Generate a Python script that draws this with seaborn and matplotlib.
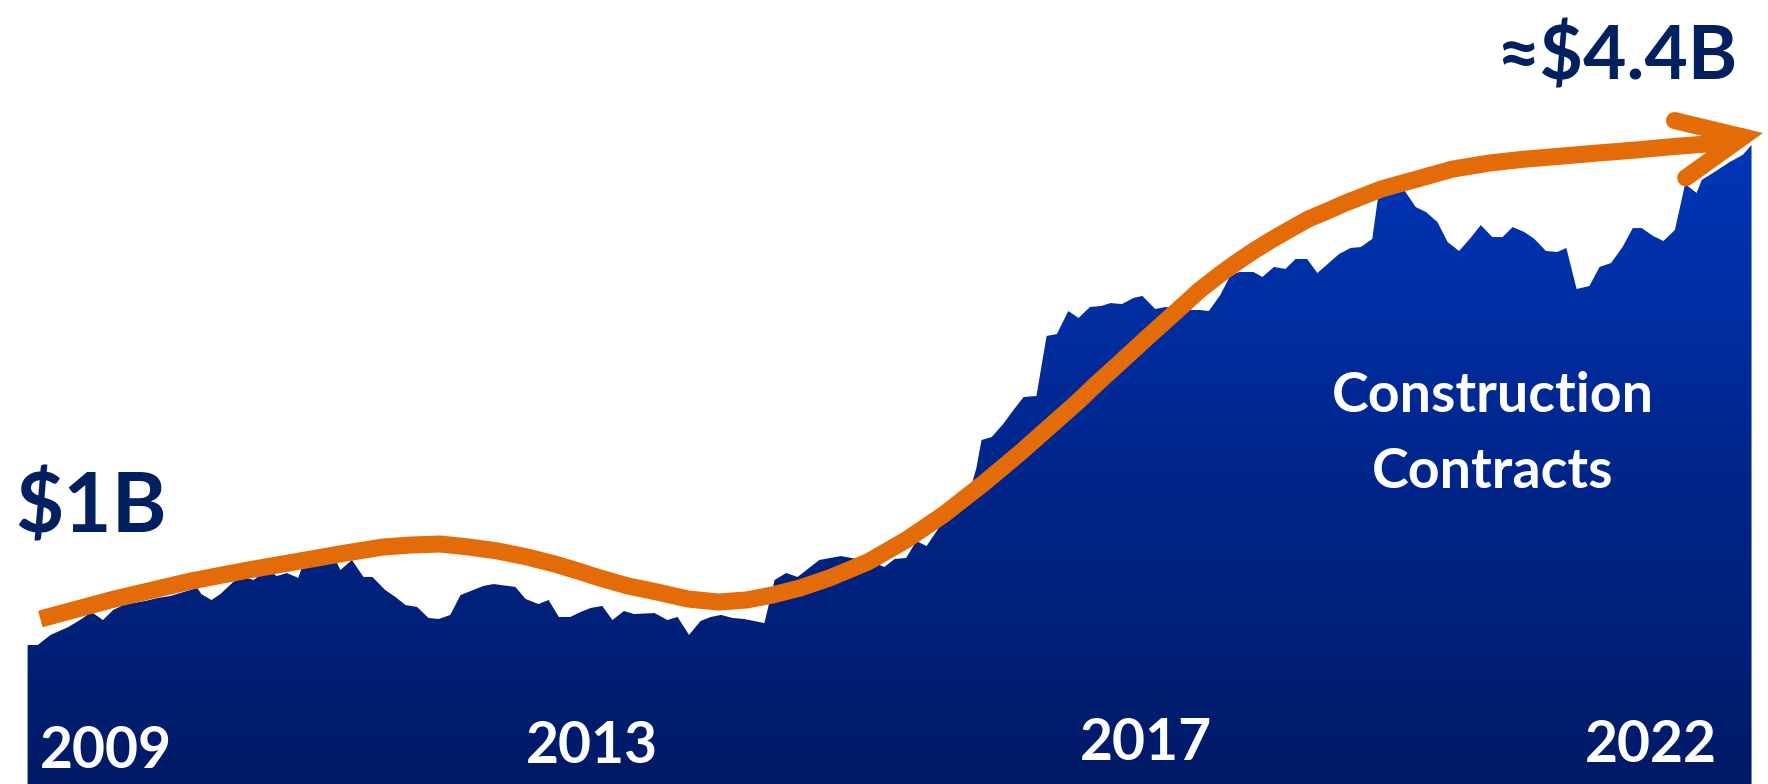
import numpy as np
import pandas as pd
import seaborn as sns
import matplotlib.pyplot as plt
from matplotlib.colors import LinearSegmentedColormap

# construction contracts, $B
years = [2009.00, 2009.08, 2009.18, 2009.32, 2009.41, 2009.50, 2009.59, 2009.67, 2009.75, 2009.83,
         2009.92, 2010.02, 2010.12, 2010.22, 2010.33, 2010.36, 2010.44, 2010.51, 2010.61, 2010.69,
         2010.77, 2010.84, 2010.91, 2010.95, 2011.03, 2011.12, 2011.16, 2011.27, 2011.41, 2011.45,
         2011.54, 2011.63, 2011.70, 2011.80, 2011.88, 2011.96, 2012.05, 2012.14, 2012.22, 2012.31,
         2012.39, 2012.47, 2012.57, 2012.65, 2012.82, 2012.90, 2013.00, 2013.08, 2013.16, 2013.25,
         2013.33, 2013.41, 2013.50, 2013.58, 2013.67, 2013.75, 2013.91, 2014.01, 2014.09, 2014.18,
         2014.27, 2014.35, 2014.43, 2014.52, 2014.61, 2014.77, 2014.85, 2014.94, 2015.03, 2015.12,
         2015.20, 2015.37, 2015.45, 2015.54, 2015.63, 2015.71, 2015.79, 2015.88, 2015.96, 2016.04,
         2016.14, 2016.21, 2016.29, 2016.37, 2016.43, 2016.47, 2016.55, 2016.64, 2016.72, 2016.80,
         2016.90, 2016.98, 2017.06, 2017.15, 2017.23, 2017.32, 2017.41, 2017.48, 2017.57, 2017.66,
         2017.73, 2017.83, 2017.91, 2018.01, 2018.09, 2018.18, 2018.25, 2018.34, 2018.42, 2018.49,
         2018.60, 2018.67, 2018.76, 2018.85, 2018.93, 2019.02, 2019.10, 2019.19, 2019.27, 2019.36,
         2019.44, 2019.53, 2019.58, 2019.77, 2019.87, 2019.95, 2020.04, 2020.12, 2020.21, 2020.30,
         2020.38, 2020.47, 2020.55, 2020.63, 2020.72, 2020.80, 2020.89, 2020.98, 2021.05, 2021.13,
         2021.23, 2021.31, 2021.40, 2021.49, 2021.57, 2021.64, 2021.73, 2021.81, 2021.90, 2021.98,
         2022.07, 2022.11, 2022.21, 2022.33, 2022.43, 2022.50]
contracts_bn = [0.959, 0.959, 1.028, 1.083, 1.131, 1.186, 1.131, 1.200, 1.234, 1.248,
                1.262, 1.283, 1.297, 1.324, 1.352, 1.310, 1.269, 1.310, 1.393, 1.428,
                1.407, 1.455, 1.462, 1.434, 1.455, 1.421, 1.524, 1.531, 1.545, 1.476,
                1.545, 1.428, 1.428, 1.338, 1.290, 1.234, 1.221, 1.145, 1.138, 1.166,
                1.303, 1.331, 1.366, 1.379, 1.359, 1.276, 1.241, 1.269, 1.152, 1.152,
                1.186, 1.214, 1.228, 1.131, 1.193, 1.172, 1.179, 1.131, 1.152, 1.028,
                1.124, 1.152, 1.166, 1.145, 1.138, 1.110, 1.407, 1.455, 1.428, 1.490,
                1.545, 1.572, 1.559, 1.545, 1.524, 1.497, 1.552, 1.559, 1.676, 1.641,
                1.772, 1.890, 1.959, 1.993, 2.179, 2.372, 2.393, 2.483, 2.579, 2.669,
                2.676, 3.090, 3.103, 3.262, 3.214, 3.290, 3.297, 3.317, 3.310, 3.352,
                3.366, 3.276, 3.290, 3.276, 3.269, 3.269, 3.262, 3.372, 3.510, 3.531,
                3.531, 3.497, 3.566, 3.552, 3.621, 3.621, 3.524, 3.593, 3.655, 3.697,
                3.703, 3.759, 4.076, 4.110, 3.979, 3.945, 3.876, 3.738, 3.676, 3.766,
                3.855, 3.772, 3.772, 3.841, 3.807, 3.759, 3.676, 3.669, 3.697, 3.414,
                3.434, 3.566, 3.593, 3.703, 3.834, 3.834, 3.779, 3.745, 3.821, 4.138,
                4.076, 4.166, 4.221, 4.290, 4.338, 4.407]

# hand-drawn trend arrow
trend_years = [2009.10, 2009.39, 2009.68, 2009.98, 2010.28, 2010.73, 2011.18, 2011.49, 2011.78,
               2012.00, 2012.23, 2012.46, 2012.68, 2012.91, 2013.13, 2013.31, 2013.48, 2013.70,
               2013.93, 2014.17, 2014.41, 2014.63, 2014.83, 2015.05, 2015.28, 2015.43, 2015.58,
               2015.73, 2015.88, 2016.03, 2016.18, 2016.33, 2016.48, 2016.63, 2016.78, 2016.93,
               2017.08, 2017.23, 2017.37, 2017.55, 2017.79, 2017.99, 2018.18, 2018.32, 2018.46,
               2018.60, 2018.74, 2018.89, 2019.03, 2019.18, 2019.32, 2019.46, 2019.60, 2019.74,
               2019.88, 2020.16, 2020.45, 2020.73, 2021.02, 2021.30, 2021.59, 2021.87, 2022.15,
               2022.59]
trend_bn = [1.138, 1.207, 1.276, 1.338, 1.400, 1.476, 1.545, 1.593, 1.634,
            1.648, 1.655, 1.634, 1.607, 1.566, 1.517, 1.469, 1.421, 1.366,
            1.324, 1.276, 1.255, 1.269, 1.303, 1.352, 1.421, 1.476, 1.531,
            1.607, 1.683, 1.772, 1.862, 1.966, 2.069, 2.179, 2.290, 2.407,
            2.524, 2.641, 2.759, 2.903, 3.097, 3.255, 3.407, 3.503, 3.593,
            3.676, 3.752, 3.828, 3.897, 3.952, 4.007, 4.055, 4.103, 4.138,
            4.172, 4.241, 4.283, 4.310, 4.331, 4.352, 4.372, 4.395, 4.414,
            4.490]

year_labels = ['2009', '2013', '2017', '2022']
start_label = '$1B'
end_label = '\u2248$4.4B'
series_label = ['Construction', 'Contracts']

navy = '#002060'
orange = '#E36C09'

df = pd.DataFrame({'year': years, 'value': contracts_bn})
trend = pd.DataFrame({'year': trend_years, 'value': trend_bn})

sns.set_style('white')
plt.rcParams['font.family'] = ['Lato', 'DejaVu Sans']

fig = plt.figure(figsize=(17.68, 7.84), dpi=100)
ax = fig.add_axes([0, 0, 1, 1])

x0, x1 = 2008.784, 2022.629
y_top = 5.407

# gradient filled area
poly = ax.fill_between(df['year'], df['value'], 0, color='none', lw=0)
grad = LinearSegmentedColormap.from_list('blues', ['#001A66', '#00268C', '#0036B8'])
img = ax.imshow(np.linspace(0, 1, 256).reshape(-1, 1), cmap=grad, origin='lower',
                aspect='auto', extent=[x0, x1, 0, df['value'].max()], zorder=1)
img.set_clip_path(poly.get_paths()[0], transform=ax.transData)

# trend line + arrow head
lw = 12.3
sns.lineplot(data=trend.iloc[:-1], x='year', y='value', color=orange, lw=lw,
             ax=ax, zorder=3, solid_capstyle='butt', solid_joinstyle='round')
ax.annotate('', xy=(trend_years[-1], trend_bn[-1]), xytext=(trend_years[-2], trend_bn[-2]),
            arrowprops=dict(arrowstyle='->,head_length=46,head_width=21', mutation_scale=1,
                            lw=lw, color=orange, shrinkA=0, shrinkB=0,
                            capstyle='round', joinstyle='miter'),
            zorder=4)

ax.set_xlim(x0, x1)
ax.set_ylim(0, y_top)
ax.set_axis_off()

# labels
fig.text(0.0085, 0.3214, start_label, color=navy, fontsize=60, fontweight='bold',
         ha='left', va='baseline')
fig.text(0.9825, 0.898, end_label, color=navy, fontsize=54, fontweight='bold',
         ha='right', va='baseline')

year_pos = [(0.060, 0.021), (0.335, 0.027), (0.648, 0.030), (0.934, 0.028)]
for lab, (px, py) in zip(year_labels, year_pos):
    fig.text(px, py, lab, color='white', fontsize=41, fontweight='bold',
             ha='center', va='baseline', zorder=5)

fig.text(0.8445, 0.4745, series_label[0], color='white', fontsize=40,
         fontweight='bold', ha='center', va='baseline')
fig.text(0.8445, 0.3776, series_label[1], color='white', fontsize=40,
         fontweight='bold', ha='center', va='baseline')

fig.savefig('out.png', dpi=100)
